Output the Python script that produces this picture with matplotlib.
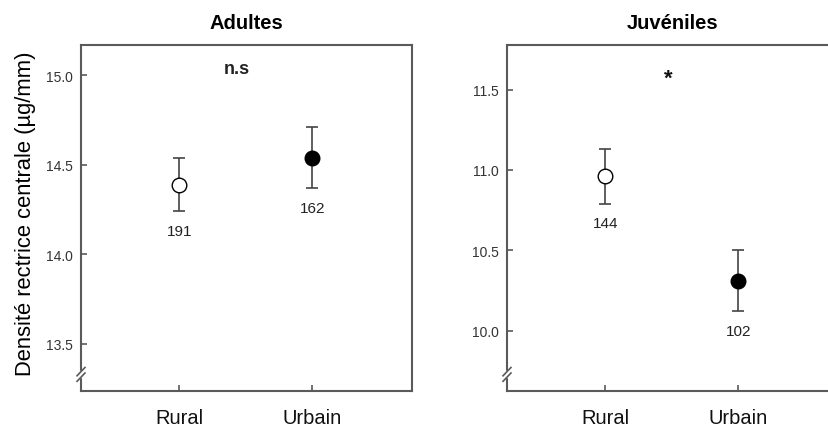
import matplotlib
matplotlib.use("Agg")
import matplotlib.pyplot as plt
from matplotlib.lines import Line2D

plt.rcParams['font.family'] = ['Liberation Sans', 'DejaVu Sans']

# Data
categories = ["Rural", "Urbain"]
adult_means = [14.39, 14.54]
adult_se = [0.15, 0.17]
adult_n = [191, 162]
juv_means = [10.96, 10.31]
juv_se = [0.17, 0.19]
juv_n = [144, 102]
adult_yticks = [13.5, 14.0, 14.5, 15.0]
juv_yticks = [10.0, 10.5, 11.0, 11.5]

W, H = 829, 427
fig = plt.figure(figsize=(W / 100, H / 100), dpi=100)

spine_col = "#5a5a5a"
err_col = "#444444"
tick_col = "#333333"


def panel(left_px, means, ses, ns, yticks, ylim, title, sig, sig_xy, sig_kw):
    ax = fig.add_axes([left_px / W, (H - 392) / H, 331 / W, 346 / H])
    xs = [1, 2]
    faces = ["white", "black"]
    for x, m, s, fc in zip(xs, means, ses, faces):
        ax.errorbar(x, m, yerr=s, fmt="none", ecolor=err_col, elinewidth=1.2,
                    capsize=4.5, capthick=1.2, zorder=2)
        ax.plot(x, m, "o", ms=10.5, mfc=fc, mec="black", mew=1.0, zorder=3)
    for x, m, s, n in zip(xs, means, ses, ns):
        ax.annotate(str(n), (x, m - s), xytext=(0, -14), textcoords="offset points",
                    ha="center", va="center", fontsize=11, color="#222222")
    ax.set_xlim(0.26, 2.75)
    ax.set_ylim(*ylim)
    ax.set_xticks(xs)
    ax.set_xticklabels(categories, fontsize=14.5, color="#111111")
    ax.set_yticks(yticks)
    ax.set_yticklabels([f"{t:.1f}" for t in yticks], fontsize=10, color=tick_col)
    ax.tick_params(axis="both", direction="in", length=4, width=1.2, color=spine_col)
    ax.tick_params(axis="x", pad=12)
    ax.tick_params(axis="y", pad=6)
    for sp in ax.spines.values():
        sp.set_color(spine_col)
        sp.set_linewidth(1.5)
    ax.set_title(title, fontsize=14.5, fontweight="bold", pad=12)
    ax.text(sig_xy[0], sig_xy[1], sig, ha="center", va="center", **sig_kw)

    # axis break marks on the y axis near the bottom
    yb = 0.04
    for dy in (0.0, 0.016):
        ax.add_line(Line2D([-0.012, 0.012], [yb + dy - 0.012, yb + dy + 0.012],
                           transform=ax.transAxes, color=spine_col, lw=1.2,
                           clip_on=False, zorder=5))
    ax.add_line(Line2D([0, 0], [yb + 0.002, yb + 0.014], transform=ax.transAxes,
                       color="white", lw=2.5, clip_on=False, zorder=4))
    return ax


ax1 = panel(81, adult_means, adult_se, adult_n, adult_yticks, (13.237, 15.169),
            "Adultes", "n.s", (1.43, 15.04),
            dict(fontsize=13, fontweight="bold", color="#222222"))
ax1.set_ylabel("Densité rectrice centrale (µg/mm)", fontsize=15.8)
ax1.yaxis.set_label_coords(-0.135, 0.516)

ax2 = panel(507, juv_means, juv_se, juv_n, juv_yticks, (9.624, 11.777),
            "Juvéniles", "*", (1.475, 11.57),
            dict(fontsize=16, fontweight="bold", color="#111111"))

fig.savefig("out.png", dpi=100)
